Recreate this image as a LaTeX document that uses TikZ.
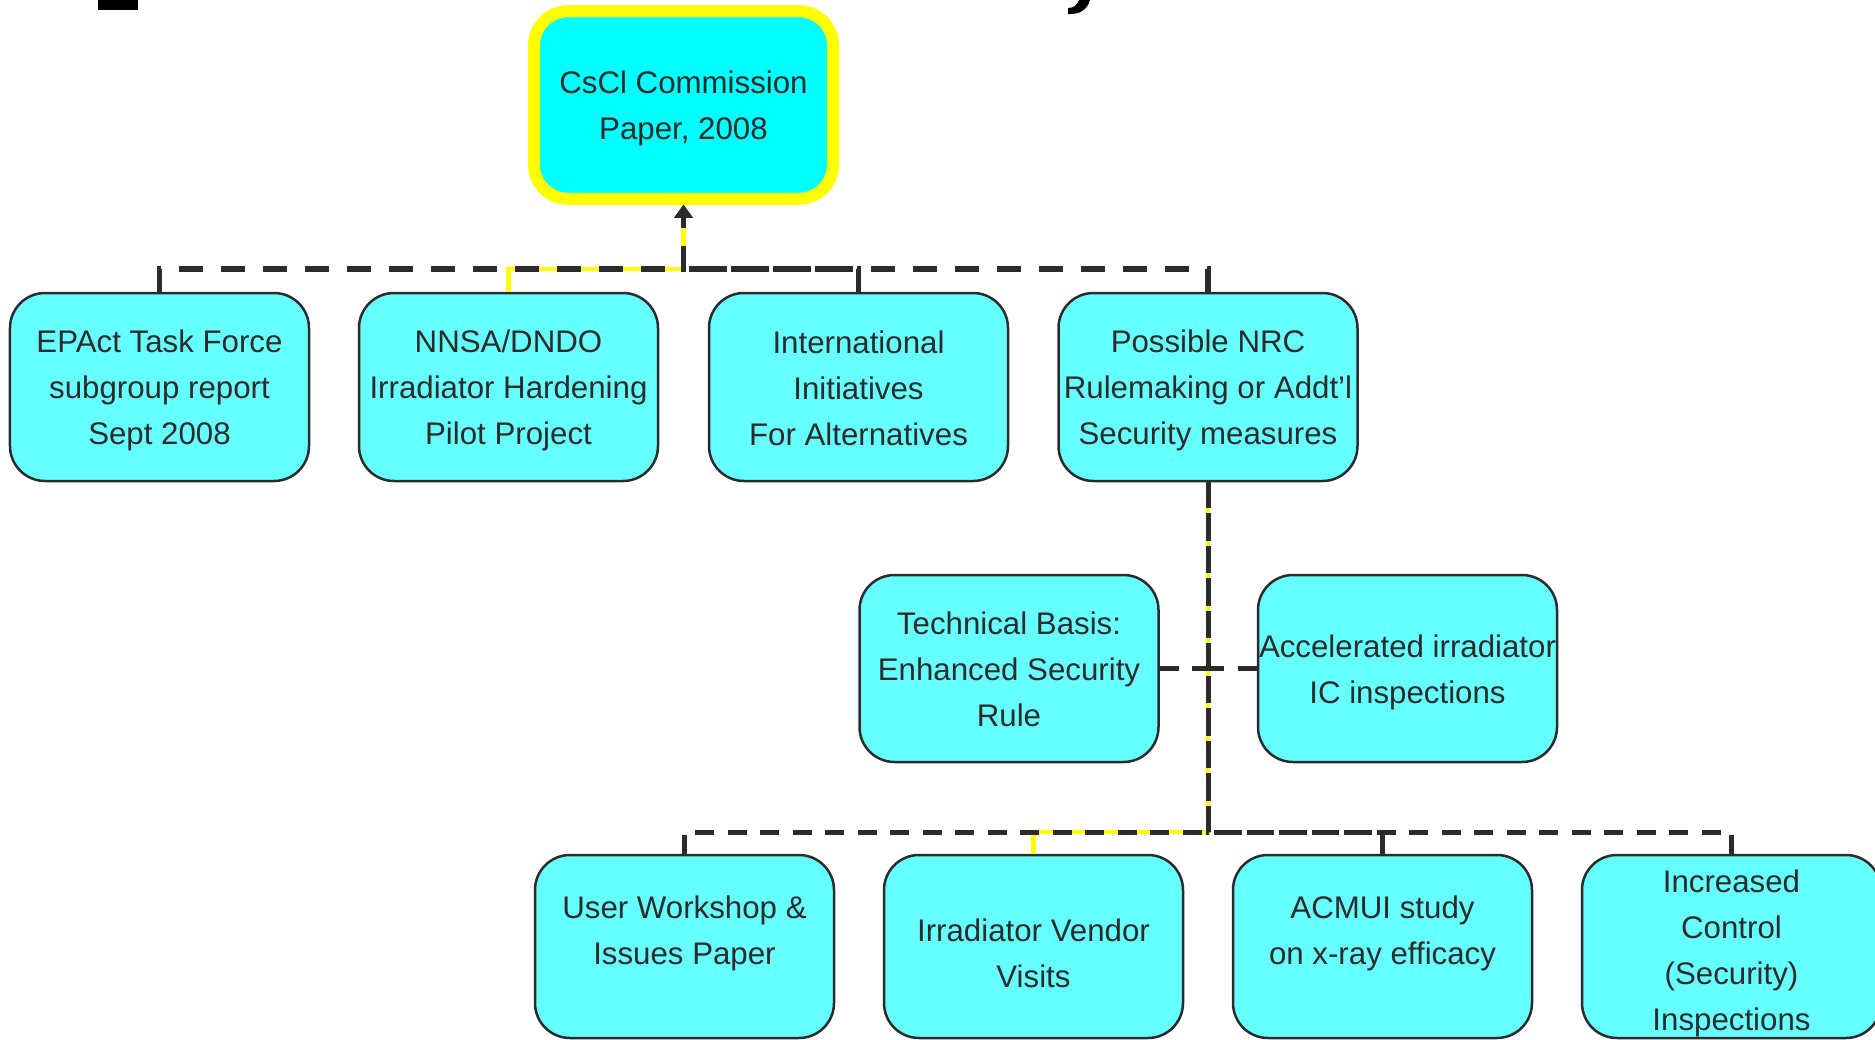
\documentclass[tikz,border=0pt]{standalone}
\usepackage{fontspec}
\setmainfont{Liberation Sans}
\usetikzlibrary{arrows.meta}
\definecolor{boxfill}{HTML}{66FFFF}
\definecolor{topfill}{HTML}{00FFFF}
\definecolor{ink}{HTML}{2B2B2B}
\definecolor{hlyellow}{HTML}{FFFF00}
% struts that centre the lines of a box
\newcommand\fsttop{\rule{0pt}{12pt}}
\newcommand\fstbot{\rule[-2.2pt]{0pt}{2.2pt}}
\newcommand\lowtop{\rule{0pt}{14.2pt}}
\newcommand\lowbot{\rule[-0.2pt]{0pt}{0.2pt}}
\begin{document}
\begin{tikzpicture}[x=0.4pt,y=-0.4pt,
  txt/.style={align=center, text=ink, font=\fontsize{12.5pt}{18.4pt}\selectfont},
  box/.style={txt, draw=ink, line width=1pt, fill=boxfill, rounded corners=14pt,
    minimum width=119.6pt, minimum height=75.2pt, inner sep=0pt},
  boxmid/.style={box, minimum height=74.8pt},
  boxlow/.style={box, minimum height=73.2pt},
  topbox/.style={txt, draw=hlyellow, line width=4.8pt, fill=topfill, rounded corners=13.6pt,
    minimum width=119.6pt, minimum height=75pt, inner sep=0pt},
  connT/.style={draw=ink, line width=2.3pt, dash pattern=on 9.6pt off 7.2pt},
  connB/.style={draw=ink, line width=2pt, dash pattern=on 7.6pt off 5.4pt},
  hl/.style={draw=hlyellow, line width=1.8pt},
  tip/.style={-{Triangle[length=5.2pt,width=7.2pt]}}
]
\useasboundingbox (0,0) rectangle (1875,1040);

% fragments of a title cut off at the top edge
\fill[black] (98,0) rectangle (138,10);
\fill[black] (1079,0) -- (1090,0) .. controls (1087,10) and (1080,14) .. (1070,14)
  -- (1068,14) -- (1068,8) .. controls (1074,8) and (1077,5) .. (1079,0) -- cycle;

% nodes
\node[topbox] (top) at (683.5,105) {\fsttop CsCl Commission\\Paper, 2008\fstbot};

\node[box] (b1) at (159.5,387) {\fsttop EPAct Task Force\\subgroup report\\Sept 2008\fstbot};
\node[box] (b2) at (508.5,387) {\fsttop NNSA/DNDO\\Irradiator Hardening\\Pilot Project\fstbot};
\node[box] (b3) at (858.5,387) {\fsttop International\\Initiatives\\For Alternatives\fstbot};
\node[box] (b4) at (1208,387) {\fsttop Possible NRC\\Rulemaking or Addt’l\\Security measures\fstbot};

\node[boxmid] (tech) at (1009,668.5) {\fsttop Technical Basis:\\Enhanced Security\\Rule\fstbot};
\node[boxmid] (accel) at (1407.5,668.5) {\fsttop Accelerated irradiator\\IC inspections\fstbot};

\node[boxlow] (c1) at (684.5,946.5) {\lowtop User Workshop \&\\Issues Paper\\\lowbot};
\node[boxlow] (c2) at (1033.5,946.5) {\lowtop Irradiator Vendor\\Visits\lowbot};
\node[boxlow] (c3) at (1382.5,946.5) {\lowtop ACMUI study\\on x-ray efficacy\\\lowbot};
\node[boxlow] (c4) at (1731.5,946.5) {\lowtop Increased\\Control\\(Security)\\Inspections\lowbot};

\coordinate (jt) at (683.5,269);
\coordinate (jm) at (1208,668.5);
\coordinate (jb) at (1208,832);

% highlighted (yellow) connectors underneath
\draw[hl] (b2.north) |- (jt) -- (top.south);
\draw[hl] (c2.north) |- (jb) -- (b4.south);

% dashed connectors
\draw[connT,tip] (b1.north) |- (jt) -- (top.south);
\draw[connT] (b3.north) |- (jt);
\draw[connT,tip] (b4.north) |- (jt) -- (top.south);

\draw[connB] (tech.east) -- (jm);
\draw[connB] (accel.west) -- (jm);
\draw[connB] (c1.north) |- (jb) -- (b4.south);
\draw[connB] (c3.north) |- (jb) -- (b4.south);
\draw[connB] (c4.north) |- (jb) -- (b4.south);
\end{tikzpicture}
\end{document}
